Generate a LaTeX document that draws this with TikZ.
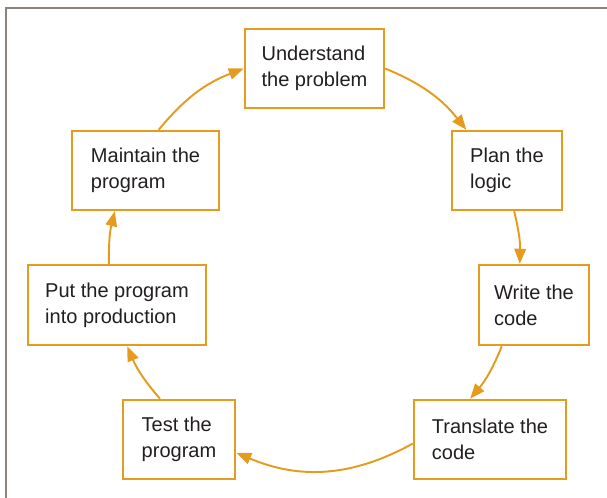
\documentclass[tikz,border=0pt]{standalone}
\usepackage{xcolor}
\usepackage{fontspec}
\setmainfont{Liberation Sans}
\usepackage{tikz}
\usetikzlibrary{arrows.meta}
\definecolor{laranja}{HTML}{E49B1E}
\definecolor{moldura}{HTML}{8C827E}
\definecolor{texto}{HTML}{231F20}

\begin{document}
\begin{tikzpicture}[every node/.style={font=\fontsize{11.4}{14.8}\selectfont,text=texto},
    etapa/.style={draw=laranja,line width=1.4pt,fill=white,align=left,inner sep=0pt,minimum height=1.58cm},
    ciclo/.style={-{Triangle[length=3mm,width=2.3mm]},draw=laranja,line width=1.1pt}]
    \useasboundingbox (0,0) rectangle (12.14,9.96);
    \draw[moldura,line width=1pt] (0.116,0) |- (12.2,9.796);
    \node[etapa,minimum width=2.78cm] (entender) at (6.29,8.59) {Understand\\the problem};
    \node[etapa,minimum width=2.2cm] (planear) at (10.14,6.55) {Plan the\\logic};
    \node[etapa,minimum width=2.2cm,minimum height=1.6cm] (escrever) at (10.68,3.86) {Write the\\code};
    \node[etapa,minimum width=3.04cm] (traduzir) at (9.80,1.17) {Translate the\\code};
    \node[etapa,minimum width=2.24cm] (testar) at (3.58,1.17) {Test the\\program};
    \node[etapa,minimum width=3.56cm,minimum height=1.6cm] (producao) at (2.34,3.86) {Put the program\\into production};
    \node[etapa,minimum width=2.94cm] (manter) at (2.91,6.55) {Maintain the\\program};
    \draw[ciclo] (entender.east) to[bend left=14.5] (planear.135);
    \draw[ciclo] (planear.-80) to[bend left=7.5] (escrever.109);
    \draw[ciclo] (escrever.-128) to[bend left=9] (traduzir.116);
    \draw[ciclo] (traduzir.183) to[bend left=26] (testar.-13);
    \draw[ciclo] (testar.115) to[bend left=9] (producao.-76);
    \draw[ciclo] (producao.101) to[bend left=7.5] (manter.-127);
    \draw[ciclo] (manter.72) to[bend left=14.7] (entender.west);
  \end{tikzpicture}
\end{document}
